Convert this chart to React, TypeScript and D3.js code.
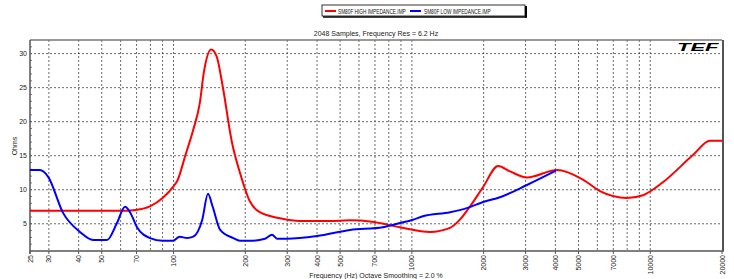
import { useEffect, useRef } from 'react';
import * as d3 from 'd3';

// SM80F HIGH IMPEDANCE.IMP (red)
const highFreq = [25, 40, 60, 68, 80, 90, 100, 104, 112, 121, 129, 134, 144, 152, 161, 176, 190, 209, 230, 280, 339, 450, 550, 680, 891, 1190, 1445, 1590, 1750, 1990, 2300, 2580, 3040, 4060, 5220, 6150, 7980, 9320, 11300, 15100, 17800, 20000];
const highOhms = [6.9, 6.9, 6.9, 7.0, 7.6, 8.8, 10.5, 11.4, 15.0, 18.8, 22.8, 27.2, 30.6, 29.5, 25.1, 16.9, 12.5, 8.3, 6.7, 5.8, 5.4, 5.4, 5.5, 5.3, 4.5, 3.8, 4.4, 5.6, 7.5, 10.4, 13.5, 12.7, 11.8, 12.9, 11.5, 9.8, 8.8, 9.2, 11.1, 15.1, 17.2, 17.2];

// SM80F LOW IMPEDANCE.IMP (blue)
const lowFreq = [25, 27.5, 29.8, 34.4, 40.5, 46, 52.6, 57.9, 62.6, 65.7, 70.3, 79.7, 90.3, 99.5, 106, 114, 121, 132, 139.5, 146, 157, 178, 190, 209, 242, 259, 272, 299, 400, 550, 756, 891, 1010, 1112, 1445, 1700, 1990, 2340, 3040, 4020];
const lowOhms = [12.9, 12.9, 11.9, 6.6, 3.8, 2.6, 2.6, 5.1, 7.5, 6.7, 4.5, 2.9, 2.5, 2.5, 3.1, 2.9, 3.1, 5.6, 9.4, 7.5, 4.1, 2.9, 2.5, 2.5, 2.8, 3.4, 2.8, 2.8, 3.2, 4.1, 4.5, 5.1, 5.6, 6.1, 6.7, 7.3, 8.2, 8.9, 10.7, 12.8];

const xGrid = [30, 40, 50, 60, 70, 80, 90, 100, 200, 300, 400, 500, 600, 700, 800, 900, 1000, 2000, 3000, 4000, 5000, 6000, 7000, 8000, 9000, 10000];
const xLabels = [25, 30, 40, 50, 70, 100, 200, 300, 400, 500, 700, 1000, 2000, 3000, 4000, 5000, 7000, 10000, 20000];
const yTicks = [5, 10, 15, 20, 25, 30];
const seriesNames = ['SM80F HIGH IMPEDANCE.IMP', 'SM80F LOW IMPEDANCE.IMP'];

export default function App() {
  const svgRef = useRef<SVGSVGElement>(null);

  useEffect(() => {
    if (!svgRef.current) return;
    const width = 734;
    const height = 279;
    const left = 30;
    const right = 722;
    const top = 40;
    const bottom = 251;
    const font = 'Liberation Sans, Arial, sans-serif';

    d3.select(svgRef.current).selectAll('*').remove();
    const svg = d3.select(svgRef.current).attr('width', width).attr('height', height);

    const x = d3.scaleLog().domain([25, 20000]).range([left, right]);
    const y = d3.scaleLinear().domain([1, 32]).range([bottom, top]);

    svg.append('rect').attr('width', width).attr('height', height).attr('fill', '#fff');

    // Grid
    svg
      .selectAll('.vgrid')
      .data(xGrid)
      .enter()
      .append('line')
      .attr('x1', (d) => x(d))
      .attr('x2', (d) => x(d))
      .attr('y1', top)
      .attr('y2', bottom)
      .attr('stroke', '#444')
      .attr('stroke-width', 0.8)
      .attr('stroke-dasharray', '2,2');

    svg
      .selectAll('.hgrid')
      .data(yTicks)
      .enter()
      .append('line')
      .attr('x1', left)
      .attr('x2', right)
      .attr('y1', (d) => y(d))
      .attr('y2', (d) => y(d))
      .attr('stroke', '#444')
      .attr('stroke-width', 0.8)
      .attr('stroke-dasharray', '2,2');

    // Frame
    svg.append('line').attr('x1', left).attr('x2', right).attr('y1', top).attr('y2', top).attr('stroke', '#777').attr('stroke-width', 1.5);
    svg.append('line').attr('x1', right + 1).attr('x2', right + 1).attr('y1', top).attr('y2', bottom).attr('stroke', '#555').attr('stroke-width', 2);
    svg.append('line').attr('x1', left).attr('x2', left).attr('y1', top).attr('y2', bottom + 3).attr('stroke', '#555').attr('stroke-width', 1.5);
    svg.append('line').attr('x1', left).attr('x2', right + 2).attr('y1', bottom).attr('y2', bottom).attr('stroke', '#555').attr('stroke-width', 1.5);

    // Minor ticks on left axis
    svg
      .selectAll('.ytick')
      .data(d3.range(2, 32))
      .enter()
      .append('line')
      .attr('x1', left)
      .attr('x2', left + 2)
      .attr('y1', (d) => y(d))
      .attr('y2', (d) => y(d))
      .attr('stroke', '#555')
      .attr('stroke-width', 0.8);

    // Bottom ticks
    svg
      .selectAll('.xtick')
      .data(xLabels)
      .enter()
      .append('line')
      .attr('x1', (d) => x(d))
      .attr('x2', (d) => x(d))
      .attr('y1', bottom)
      .attr('y2', bottom + 3)
      .attr('stroke', '#555')
      .attr('stroke-width', 1);

    // Y labels
    svg
      .selectAll('.ylab')
      .data(yTicks)
      .enter()
      .append('text')
      .attr('x', left - 3)
      .attr('y', (d) => y(d) + 2.5)
      .attr('text-anchor', 'end')
      .attr('font-family', font)
      .attr('font-size', '7px')
      .attr('fill', '#222')
      .text((d) => d);

    // X labels (rotated)
    svg
      .selectAll('.xlab')
      .data(xLabels)
      .enter()
      .append('text')
      .attr('transform', (d) => `translate(${x(d) + 2.5},${bottom + 4}) rotate(-90)`)
      .attr('text-anchor', 'end')
      .attr('font-family', font)
      .attr('font-size', '7px')
      .attr('fill', '#222')
      .text((d) => d);

    // Curves
    const line = d3
      .line<[number, number]>()
      .x((d) => x(d[0]))
      .y((d) => y(d[1]))
      .curve(d3.curveMonotoneX);

    svg
      .append('path')
      .datum(highFreq.map((f, i) => [f, highOhms[i]] as [number, number]))
      .attr('fill', 'none')
      .attr('stroke', '#f00')
      .attr('stroke-width', 2)
      .attr('d', line);

    svg
      .append('path')
      .datum(lowFreq.map((f, i) => [f, lowOhms[i]] as [number, number]))
      .attr('fill', 'none')
      .attr('stroke', '#00f')
      .attr('stroke-width', 2)
      .attr('d', line);

    // Titles
    svg
      .append('text')
      .attr('x', 376)
      .attr('y', 36)
      .attr('text-anchor', 'middle')
      .attr('font-family', font)
      .attr('font-size', '7px')
      .attr('fill', '#222')
      .text('2048 Samples, Frequency Res = 6.2 Hz');

    svg
      .append('text')
      .attr('x', 376)
      .attr('y', 278)
      .attr('text-anchor', 'middle')
      .attr('font-family', font)
      .attr('font-size', '7px')
      .attr('fill', '#222')
      .text('Frequency (Hz) Octave Smoothing = 2.0 %');

    svg
      .append('text')
      .attr('transform', 'translate(17,146) rotate(-90)')
      .attr('text-anchor', 'middle')
      .attr('font-family', font)
      .attr('font-size', '7px')
      .attr('fill', '#222')
      .text('Ohms');

    // TEF logo
    svg
      .append('text')
      .attr('transform', 'translate(677,50.5) scale(2,1)')
      .attr('font-family', font)
      .attr('font-size', '11px')
      .attr('font-weight', 900)
      .attr('font-style', 'italic')
      .attr('fill', '#000')
      .text('TEF');

    // Legend
    const lg = svg.append('g');
    lg.append('rect').attr('x', 322).attr('y', 5).attr('width', 203).attr('height', 11).attr('fill', '#fff').attr('stroke', '#000').attr('stroke-width', 0.8);
    lg.append('line').attr('x1', 526).attr('x2', 526).attr('y1', 6).attr('y2', 17.5).attr('stroke', '#000').attr('stroke-width', 2);
    lg.append('line').attr('x1', 323).attr('x2', 527).attr('y1', 17).attr('y2', 17).attr('stroke', '#000').attr('stroke-width', 1.5);
    const legendItems = [
      { name: seriesNames[0], color: '#f00', x0: 325, tx: 338 },
      { name: seriesNames[1], color: '#00f', x0: 410, tx: 424 },
    ];
    legendItems.forEach((it) => {
      lg.append('line').attr('x1', it.x0).attr('x2', it.x0 + 11).attr('y1', 11).attr('y2', 11).attr('stroke', it.color).attr('stroke-width', 2);
      lg.append('text')
        .attr('transform', `translate(${it.tx},13.5) scale(0.68,1)`)
        .attr('font-family', font)
        .attr('font-size', '7px')
        .attr('fill', '#111')
        .text(it.name);
    });
  }, []);

  return (
    <div style={{ position: 'absolute', left: 0, top: 0 }}>
      <svg ref={svgRef}></svg>
    </div>
  );
}
